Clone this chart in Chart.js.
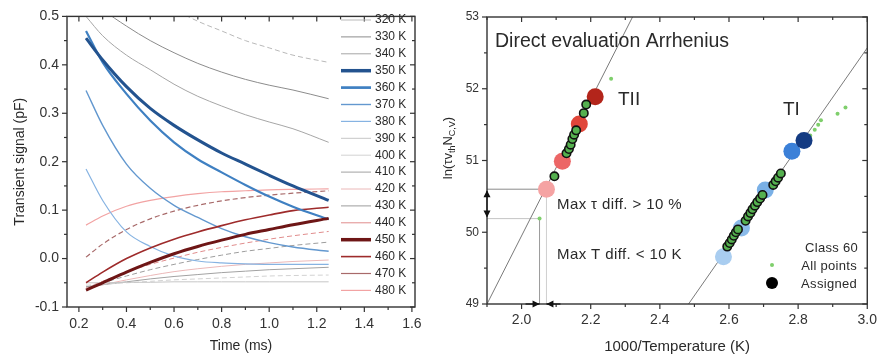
<!DOCTYPE html>
<html>
<head>
<meta charset="utf-8">
<title>Transients and Arrhenius evaluation</title>
<script src="https://cdn.jsdelivr.net/npm/chart.js@4.4.0/dist/chart.umd.min.js"></script>
<style>
  html, body { margin: 0; padding: 0; background: #fff; }
  #wrap { position: relative; width: 885px; height: 356px; overflow: hidden; background: #fff; }
  #left { position: absolute; left: 0; top: 0; }
  #right { position: absolute; left: 440px; top: 0; }
</style>
</head>
<body>
<div id="wrap">
  <canvas id="left" width="440" height="356"></canvas>
  <canvas id="right" width="445" height="356"></canvas>
</div>
<script>
// ---------- transient data (left panel) ----------
const timeMs = [0.23, 0.3, 0.4, 0.5, 0.6, 0.7, 0.8, 0.9, 1.0, 1.1, 1.25];
const tempLabels = ['320 K', '330 K', '340 K', '350 K', '360 K', '370 K', '380 K', '390 K',
                    '400 K', '410 K', '420 K', '430 K', '440 K', '450 K', '460 K', '470 K', '480 K'];
const sig320 = [0.64, 0.61, 0.575, 0.545, 0.515, 0.49, 0.47, 0.45, 0.435, 0.42, 0.405];
const sig330 = [0.55, 0.515, 0.48, 0.45, 0.425, 0.403, 0.385, 0.37, 0.358, 0.348, 0.33];
const sig340 = [0.50, 0.46, 0.42, 0.39, 0.36, 0.335, 0.315, 0.297, 0.282, 0.268, 0.24];
const sig350 = [0.455, 0.41, 0.355, 0.31, 0.275, 0.245, 0.218, 0.195, 0.172, 0.15, 0.12];
const sig360 = [0.47, 0.405, 0.34, 0.285, 0.24, 0.205, 0.178, 0.152, 0.128, 0.107, 0.081];
const sig370 = [0.347, 0.275, 0.195, 0.145, 0.11, 0.085, 0.062, 0.045, 0.033, 0.024, 0.015];
const sig380 = [0.185, 0.12, 0.055, 0.025, 0.005, -0.005, -0.009, -0.011, -0.012, -0.012, -0.012];
const sig390 = [-0.05, -0.05, -0.049, -0.049, -0.048, -0.048, -0.048, -0.048, -0.048, -0.048, -0.048];
const sig400 = [-0.055, -0.053, -0.05, -0.047, -0.044, -0.042, -0.04, -0.038, -0.036, -0.035, -0.034];
const sig410 = [-0.058, -0.054, -0.048, -0.042, -0.037, -0.033, -0.029, -0.026, -0.023, -0.021, -0.018];
const sig420 = [-0.06, -0.054, -0.044, -0.035, -0.027, -0.021, -0.016, -0.012, -0.009, -0.006, -0.003];
const sig430 = [-0.06, -0.05, -0.036, -0.023, -0.012, -0.002, 0.007, 0.015, 0.021, 0.027, 0.034];
const sig440 = [-0.06, -0.047, -0.028, -0.012, 0.001, 0.013, 0.023, 0.032, 0.04, 0.047, 0.056];
const sig450 = [-0.065, -0.05, -0.028, -0.008, 0.01, 0.025, 0.038, 0.05, 0.06, 0.07, 0.083];
const sig460 = [-0.05, -0.028, 0.0, 0.022, 0.04, 0.055, 0.068, 0.08, 0.09, 0.099, 0.106];
const sig470 = [0.003, 0.03, 0.06, 0.082, 0.098, 0.11, 0.119, 0.126, 0.131, 0.135, 0.14];
const sig480 = [0.069, 0.088, 0.108, 0.12, 0.128, 0.134, 0.138, 0.14, 0.142, 0.143, 0.144];
const timeTicks = [0.2, 0.4, 0.6, 0.8, 1.0, 1.2, 1.4, 1.6];
const signalTicks = [-0.1, 0.0, 0.1, 0.2, 0.3, 0.4, 0.5];

// ---------- Arrhenius data (right panel) ----------
const fitTIIx = [1.9, 2.321];
const fitTIIy = [49, 53];
const fitTIx = [2.483, 3.0];
const fitTIy = [49, 52.57];
const allPointsX = [2.052, 2.259, 2.835, 2.848, 2.858, 2.866, 2.914, 2.937];
const allPointsY = [50.19, 52.14, 51.35, 51.43, 51.50, 51.56, 51.65, 51.74];
const tiiCentersX = [2.072, 2.118, 2.167, 2.213];
const tiiCentersY = [50.60, 50.99, 51.51, 51.89];
const tiCentersX = [2.584, 2.636, 2.705, 2.782, 2.817];
const tiCentersY = [49.66, 50.06, 50.59, 51.13, 51.28];
const classTIIx = [2.095, 2.130, 2.137, 2.142, 2.147, 2.152, 2.158, 2.180, 2.187];
const classTIIy = [50.78, 51.10, 51.16, 51.22, 51.30, 51.36, 51.42, 51.66, 51.78];
const classTIx = [2.595, 2.602, 2.608, 2.614, 2.620, 2.626,
                  2.648, 2.655, 2.662, 2.668, 2.675, 2.682, 2.690, 2.697,
                  2.728, 2.735, 2.742, 2.750];
const classTIy = [49.80, 49.85, 49.90, 49.95, 50.00, 50.04,
                  50.16, 50.22, 50.27, 50.32, 50.37, 50.42, 50.47, 50.52,
                  50.66, 50.71, 50.76, 50.82];
const invTempTicks = [2.0, 2.2, 2.4, 2.6, 2.8, 3.0];
const lnTicks = [49, 50, 51, 52, 53];

// ---------- styles ----------
const FONT = "'Liberation Sans', Arial, Helvetica, sans-serif";
const INK = '#2a2a2a';
const curveColors = ['#b9b9b9', '#8c8c8c', '#a6a6a6', '#23538f', '#3f80c2', '#6398cf', '#86b3e2',
                     '#c6c6c6', '#d2d2d2', '#a2a2a2', '#ebb8b8', '#9d9d9d', '#e08c8c',
                     '#6e1616', '#9e2b2b', '#a86a6a', '#f2a3a3'];
const curveWidths = [1, 1, 1, 3, 2.2, 1.4, 1.2, 1, 1, 1, 1, 1, 1, 3, 1.6, 1.2, 1.2];
const curveDashes = [[5, 3], [], [], [], [], [], [], [], [5, 3], [], [], [5, 3], [5, 3], [], [], [5, 3], []];
const tiiColors = ['#f5a3a3', '#ec6666', '#e0463a', '#b3251b'];
const tiColors = ['#a9cdf0', '#8bbbe9', '#7ab0e6', '#3b80d8', '#143b82'];

const series = [sig320, sig330, sig340, sig350, sig360, sig370, sig380, sig390, sig400,
                sig410, sig420, sig430, sig440, sig450, sig460, sig470, sig480];

const pts = (xs, ys) => xs.map((x, i) => ({ x, y: ys[i] }));
const fixedTicks = (vals) => (scale) => { scale.ticks = vals.map(v => ({ value: v })); };

// Box frame with major/minor tick marks on all four sides
function drawFrame(ctx, area, sx, sy, xMaj, xMinStep, yMaj, yMinStep) {
  ctx.save();
  ctx.strokeStyle = '#333';
  ctx.lineWidth = 1.4;
  ctx.strokeRect(area.left, area.top, area.right - area.left, area.bottom - area.top);
  ctx.lineWidth = 1.2;
  const seg = (x1, y1, x2, y2) => { ctx.beginPath(); ctx.moveTo(x1, y1); ctx.lineTo(x2, y2); ctx.stroke(); };
  const xs = [];
  xMaj.forEach(v => xs.push([v, 5]));
  for (let v = xMaj[0] - xMinStep; v <= sx.max + 1e-9; v += 2 * xMinStep) if (v >= sx.min) xs.push([v, 3]);
  xs.forEach(([v, len]) => {
    const p = sx.getPixelForValue(v);
    seg(p, area.bottom, p, area.bottom + len);
    seg(p, area.top, p, area.top + len);
  });
  const ys = [];
  yMaj.forEach(v => ys.push([v, 5]));
  for (let v = yMaj[0] + yMinStep; v <= sy.max + 1e-9; v += 2 * yMinStep) ys.push([v, 3]);
  ys.forEach(([v, len]) => {
    const p = sy.getPixelForValue(v);
    seg(area.left - len, p, area.left, p);
    seg(area.right - len, p, area.right, p);
  });
  ctx.restore();
}

// ---------- left chart ----------
const leftDatasets = series.map((s, i) => ({
  label: tempLabels[i],
  data: pts(timeMs, s),
  borderColor: curveColors[i],
  borderWidth: curveWidths[i],
  borderDash: curveDashes[i],
  pointRadius: 0,
  tension: 0.4,
  cubicInterpolationMode: 'monotone',
  fill: false,
  order: (i === 3 || i === 13) ? 0 : (i === 4 || i === 14 ? 1 : 2)
}));

const leftDecor = {
  id: 'leftDecor',
  afterDraw(chart) {
    const { ctx, chartArea: a, scales: { x, y } } = chart;
    drawFrame(ctx, a, x, y, timeTicks, 0.1, signalTicks, 0.05);
    // legend
    ctx.save();
    ctx.font = `12px ${FONT}`;
    ctx.fillStyle = INK;
    ctx.textBaseline = 'middle';
    tempLabels.forEach((lab, i) => {
      const yy = 20 + i * 16.9;
      ctx.strokeStyle = curveColors[i];
      ctx.lineWidth = curveWidths[i] + (curveWidths[i] > 2 ? 0.5 : 0);
      ctx.setLineDash([]);
      ctx.beginPath(); ctx.moveTo(341, yy); ctx.lineTo(371, yy); ctx.stroke();
      ctx.fillText(lab, 375, yy);
    });
    // axis titles
    ctx.font = `14px ${FONT}`;
    ctx.textAlign = 'center';
    ctx.fillText('Time (ms)', (a.left + a.right) / 2, 346);
    ctx.translate(20, (a.top + a.bottom) / 2);
    ctx.rotate(-Math.PI / 2);
    ctx.fillText('Transient signal (pF)', 0, 0);
    ctx.restore();
  }
};

new Chart(document.getElementById('left'), {
  type: 'line',
  data: { datasets: leftDatasets },
  options: {
    responsive: false,
    animation: false,
    events: [],
    layout: { padding: { left: 0, right: 25, top: 16, bottom: 0 } },
    plugins: { legend: { display: false }, tooltip: { enabled: false } },
    scales: {
      x: {
        type: 'linear', min: 0.15, max: 1.613,
        afterBuildTicks: fixedTicks(timeTicks),
        afterFit: (s) => { s.height = 49; },
        grid: { display: false, drawTicks: false },
        border: { display: false },
        ticks: { padding: 9, color: '#333', font: { size: 14, family: FONT }, callback: v => v.toFixed(1), maxRotation: 0 }
      },
      y: {
        type: 'linear', min: -0.1, max: 0.5,
        afterBuildTicks: fixedTicks(signalTicks),
        afterFit: (s) => { s.width = 67; },
        grid: { display: false, drawTicks: false },
        border: { display: false },
        ticks: { padding: 8, color: '#333', font: { size: 14, family: FONT }, callback: v => v.toFixed(1) }
      }
    }
  },
  plugins: [leftDecor]
});

// ---------- right chart ----------
const rightDatasets = [
  { data: pts(fitTIIx, fitTIIy), showLine: true, borderColor: '#7a7a7a', borderWidth: 1, pointRadius: 0, order: 20 },
  { data: pts(fitTIx, fitTIy), showLine: true, borderColor: '#7a7a7a', borderWidth: 1, pointRadius: 0, order: 20 },
  { data: [{ x: 1.9, y: tiiCentersY[0] }, { x: tiiCentersX[0], y: tiiCentersY[0] }], showLine: true,
    borderColor: '#8a8a8a', borderWidth: 1, pointRadius: 0, order: 21 },
  { data: [{ x: 1.9, y: allPointsY[0] }, { x: allPointsX[0], y: allPointsY[0] }], showLine: true,
    borderColor: '#c4c4c4', borderWidth: 1, pointRadius: 0, order: 21 },
  { data: [{ x: allPointsX[0], y: 49 }, { x: allPointsX[0], y: allPointsY[0] }], showLine: true,
    borderColor: '#9a9a9a', borderWidth: 1, pointRadius: 0, order: 21 },
  { data: [{ x: tiiCentersX[0], y: 49 }, { x: tiiCentersX[0], y: tiiCentersY[0] }], showLine: true,
    borderColor: '#cfcfcf', borderWidth: 1, pointRadius: 0, order: 21 },
  { data: pts(allPointsX, allPointsY), showLine: false, pointRadius: 2, pointBorderWidth: 0,
    backgroundColor: '#7fcf6c', borderColor: '#7fcf6c', order: 15 },
  { data: pts(tiiCentersX, tiiCentersY), showLine: false, pointRadius: 8.5, pointBorderWidth: 0,
    backgroundColor: tiiColors, borderColor: tiiColors, order: 10 },
  { data: pts(tiCentersX, tiCentersY), showLine: false, pointRadius: 8.5, pointBorderWidth: 0,
    backgroundColor: tiColors, borderColor: tiColors, order: 10 },
  { data: pts(classTIIx, classTIIy), showLine: false, pointRadius: 4.2, pointBorderWidth: 1.6,
    backgroundColor: '#55b04f', borderColor: '#111', order: 5 },
  { data: pts(classTIx, classTIy), showLine: false, pointRadius: 4.2, pointBorderWidth: 1.6,
    backgroundColor: '#55b04f', borderColor: '#111', order: 5 }
];

function arrowHead(ctx, tx, ty, dx, dy, size) {
  // triangle with tip at (tx,ty) pointing along (dx,dy)
  const px = -dy, py = dx;
  ctx.beginPath();
  ctx.moveTo(tx, ty);
  ctx.lineTo(tx - dx * size + px * size * 0.5, ty - dy * size + py * size * 0.5);
  ctx.lineTo(tx - dx * size - px * size * 0.5, ty - dy * size - py * size * 0.5);
  ctx.closePath();
  ctx.fill();
}

const rightDecor = {
  id: 'rightDecor',
  afterDraw(chart) {
    const { ctx, chartArea: a, scales: { x, y } } = chart;
    drawFrame(ctx, a, x, y, invTempTicks, 0.1, lnTicks, 0.5);
    ctx.save();
    ctx.fillStyle = '#111';
    ctx.strokeStyle = '#111';
    ctx.lineWidth = 1.2;
    // vertical span marker on the y axis
    const yA = y.getPixelForValue(tiiCentersY[0]);
    const yB = y.getPixelForValue(allPointsY[0]);
    ctx.beginPath(); ctx.moveTo(a.left, yA + 2); ctx.lineTo(a.left, yB - 2); ctx.stroke();
    arrowHead(ctx, a.left, yA + 1, 0, -1, 7);
    arrowHead(ctx, a.left, yB - 1, 0, 1, 7);
    // horizontal span marker on the x axis
    const xA = x.getPixelForValue(allPointsX[0]);
    const xB = x.getPixelForValue(tiiCentersX[0]);
    ctx.beginPath(); ctx.moveTo(xA - 14, a.bottom); ctx.lineTo(xA, a.bottom); ctx.stroke();
    ctx.beginPath(); ctx.moveTo(xB + 14, a.bottom); ctx.lineTo(xB, a.bottom); ctx.stroke();
    arrowHead(ctx, xA, a.bottom, 1, 0, 7);
    arrowHead(ctx, xB, a.bottom, -1, 0, 7);

    // texts
    ctx.fillStyle = INK;
    ctx.textBaseline = 'alphabetic';
    ctx.font = `19.5px ${FONT}`;
    ctx.fillText('Direct evaluation Arrhenius', 55, 47);
    ctx.font = `19px ${FONT}`;
    ctx.fillText('TII', 178, 105);
    ctx.fillText('TI', 343, 115);
    ctx.font = `15px ${FONT}`;
    ctx.letterSpacing = '0.4px';
    ctx.fillText('Max \u03c4 diff. > 10 %', 117, 209);
    ctx.fillText('Max T diff. < 10 K', 117, 259);

    // legend
    ctx.font = `13px ${FONT}`;
    ctx.letterSpacing = '0.3px';
    ctx.textAlign = 'right';
    ctx.fillText('Class 60', 418, 252);
    ctx.fillText('All points', 417, 270);
    ctx.fillText('Assigned', 417, 288);
    ctx.letterSpacing = '0px';
    ctx.fillStyle = '#7fcf6c';
    ctx.beginPath(); ctx.arc(332, 265, 2, 0, Math.PI * 2); ctx.fill();
    ctx.fillStyle = '#000';
    ctx.beginPath(); ctx.arc(332, 283, 6, 0, Math.PI * 2); ctx.fill();

    // axis titles
    ctx.fillStyle = INK;
    ctx.textAlign = 'center';
    ctx.font = `15px ${FONT}`;
    ctx.fillText('1000/Temperature (K)', (a.left + a.right) / 2, 351);

    // y title with subscripts: ln(τ v_th N_C,V)
    ctx.save();
    ctx.translate(12, 148);
    ctx.rotate(-Math.PI / 2);
    const parts = [['ln(\u03c4v', 13, 0], ['th', 9, 3], ['N', 13, 0], ['C,V', 9, 3], [')', 13, 0]];
    let total = 0;
    parts.forEach(([t, sz]) => { ctx.font = `${sz}px ${FONT}`; total += ctx.measureText(t).width; });
    let cx = -total / 2;
    ctx.textAlign = 'left';
    parts.forEach(([t, sz, dy]) => {
      ctx.font = `${sz}px ${FONT}`;
      ctx.fillText(t, cx, dy);
      cx += ctx.measureText(t).width;
    });
    ctx.restore();
    ctx.restore();
  }
};

new Chart(document.getElementById('right'), {
  type: 'scatter',
  data: { datasets: rightDatasets },
  options: {
    responsive: false,
    animation: false,
    events: [],
    layout: { padding: { left: 0, right: 15, top: 17, bottom: 0 } },
    plugins: { legend: { display: false }, tooltip: { enabled: false } },
    scales: {
      x: {
        type: 'linear', min: 1.9, max: 3.0,
        afterBuildTicks: fixedTicks(invTempTicks),
        afterFit: (s) => { s.height = 52; },
        grid: { display: false, drawTicks: false },
        border: { display: false },
        ticks: { padding: 8, color: '#333', font: { size: 14, family: FONT }, callback: v => v.toFixed(1), maxRotation: 0 }
      },
      y: {
        type: 'linear', min: 49, max: 53,
        afterBuildTicks: fixedTicks(lnTicks),
        afterFit: (s) => { s.width = 47; },
        grid: { display: false, drawTicks: false },
        border: { display: false },
        ticks: { padding: 8, color: '#333', font: { size: 12, family: FONT }, callback: v => String(v) }
      }
    }
  },
  plugins: [rightDecor]
});
</script>
</body>
</html>
